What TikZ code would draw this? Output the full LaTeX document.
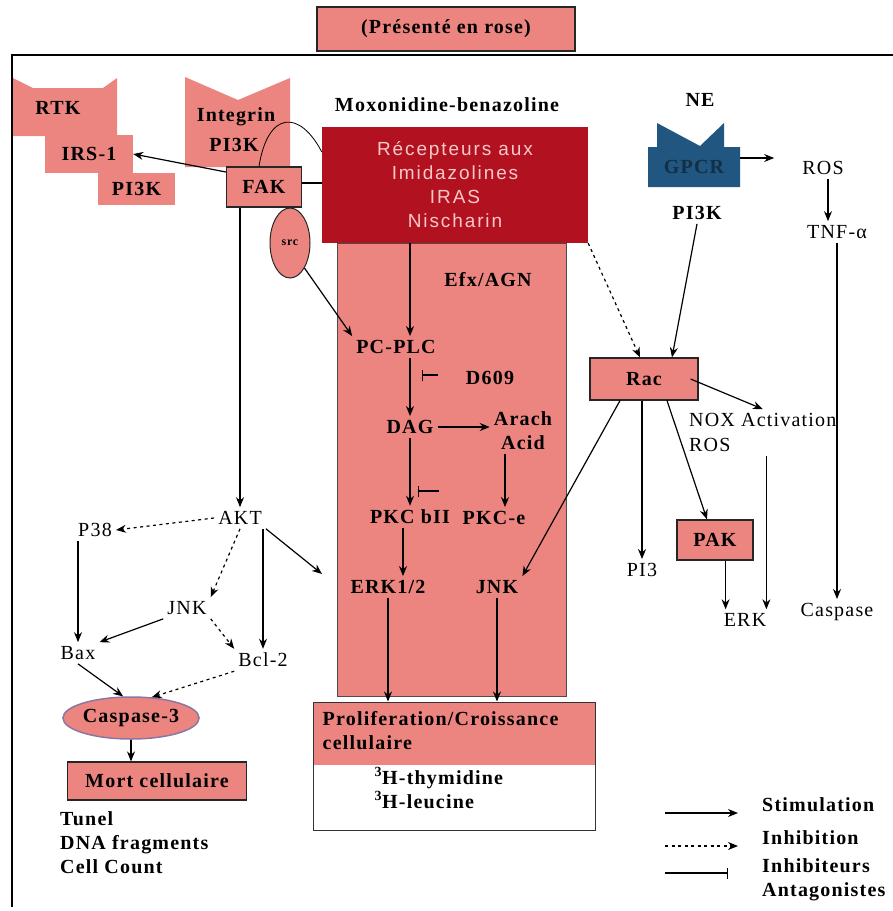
\documentclass[tikz,border=0pt]{standalone}
\usepackage{fontspec}
\setmainfont[LetterSpace=6]{Liberation Serif}
\newfontfamily\recfont[LetterSpace=10]{Liberation Sans}
\usetikzlibrary{arrows.meta,shapes.geometric}

\definecolor{rose}{RGB}{236,133,127}
\definecolor{recred}{RGB}{178,18,32}
\definecolor{recpink}{RGB}{248,200,200}
\definecolor{gpcrblue}{RGB}{32,86,128}
\definecolor{casline}{RGB}{140,118,160}

\tikzset{
  lbl/.style={font=\fontsize{20}{24}\selectfont\bfseries, inner sep=4pt},
  reg/.style={font=\fontsize{20}{24}\selectfont, inner sep=4pt},
  rosebox/.style={lbl, draw=black!85, fill=rose, line width=1.2pt},
  stim/.style={-{Stealth[length=10pt,width=8pt]}, line width=1.2pt},
  inhib/.style={stim, dash pattern=on 3pt off 3.5pt},
  block/.style={-{Bar[width=11pt]}, line width=1.2pt}
}

\begin{document}
\begin{tikzpicture}[x=1pt, y=-1pt]
    \useasboundingbox (0,0) rectangle (893,911);

    % Title and frame
    \node[rosebox, minimum width=258pt, minimum height=44pt] (title) at (446,29) {(Présenté en rose)};
    \draw[line width=1.3pt] (12,907) -- (12,55) -- (893,55);

    % Receptors on the left
    \fill[rose] (13,78) -- (33,88) -- (103,88) -- (117,78) -- (117,136) -- (13,136) -- cycle;
    \node[lbl] (rtk) at (58,108) {RTK};
    \node[lbl, fill=rose, minimum width=88pt, minimum height=38pt] (irs) at (89,154) {IRS-1};
    \node[lbl, fill=rose, minimum width=77pt, minimum height=32pt] (pikl) at (136.5,189) {PI3K};
    \fill[rose] (185,77) -- (238,100) -- (290,78) -- (290,167) -- (185,167) -- cycle;
    \node[lbl] (integ) at (236,117) {Integrin};
    \node[lbl] (piki) at (234,145) {PI3K};
    \node[rosebox, minimum width=75pt, minimum height=40pt] (fak) at (264,187) {FAK};
    \node[ellipse, draw=black!85, fill=rose, line width=1pt, minimum width=40pt, minimum height=70pt,
          inner sep=0pt, font=\fontsize{12}{14}\selectfont\bfseries] (src) at (290,243) {src};

    % Central column
    \node[draw=black!70, fill=rose, line width=1pt, minimum width=229pt, minimum height=453pt] (col) at (451.5,469.5) {};
    \node[fill=recred, text=recpink, minimum width=266pt, minimum height=116pt, align=center,
          font=\recfont\fontsize{19}{24}\selectfont] (rec) at (455,185) {Récepteurs aux\\Imidazolines\\IRAS\\Nischarin};
    \node[lbl] (moxo) at (447,105) {Moxonidine-benazoline};
    \node[lbl] (efx) at (488,280) {Efx/AGN};
    \node[lbl] (pcplc) at (396,347) {PC-PLC};
    \node[lbl] (d609) at (490,378) {D609};
    \node[lbl] (dag) at (410,427) {DAG};
    \node[lbl, align=center] (arach) at (523,431) {Arach\\Acid};
    \node[lbl] (pkcb) at (410,517) {PKC bII};
    \node[lbl] (pkce) at (494,518) {PKC-e};
    \node[lbl] (erk12) at (388,587) {ERK1/2};
    \node[lbl] (jnkc) at (497,587) {JNK};

    % Proliferation box
    \node[draw=black!80, fill=white, line width=1pt, minimum width=282pt, minimum height=128pt,
          path picture={\fill[rose] (path picture bounding box.north west) rectangle ([yshift=-63pt]path picture bounding box.north east);}] (prolif) at (454,766) {};
    \node[lbl, align=left, anchor=north west, inner sep=0pt] (prtxt) at ([xshift=10pt,yshift=-10pt]prolif.north west) {Proliferation/Croissance\\cellulaire};
    \node[lbl, align=left, anchor=north west, inner sep=0pt] (thym) at ([xshift=62pt,yshift=-66pt]prolif.north west) {\textsuperscript{3}H-thymidine\\\textsuperscript{3}H-leucine};

    % Left branch
    \node[reg] (akt) at (240,518) {AKT};
    \node[reg] (p38) at (95,530) {P38};
    \node[reg] (jnkl) at (187,608) {JNK};
    \node[reg] (bax) at (78,653) {Bax};
    \node[reg] (bcl2) at (263,660) {Bcl-2};
    \node[lbl, ellipse, draw=casline, fill=rose, line width=1.5pt, minimum width=132pt, minimum height=42pt,
          inner sep=0pt] (casp) at (131,718) {Caspase-3};
    \node[rosebox, minimum width=179pt, minimum height=38pt] (mort) at (157,781) {Mort cellulaire};
    \node[lbl, align=left, anchor=north west, inner sep=0pt] (assays) at (60,811) {Tunel\\DNA fragments\\Cell Count};

    % Right branch
    \fill[gpcrblue] (648,187) -- (648,147) -- (657,147) -- (657,123) -- (700,146) -- (724,123)
        -- (724,147) -- (740,147) -- (740,187) -- cycle;
    \node[lbl, text=gpcrblue!55!black, minimum width=92pt, minimum height=40pt] (gpcr) at (694,167) {GPCR};
    \node[lbl] (ne) at (700,100) {NE};
    \node[reg] (rosr) at (823,168) {ROS};
    \node[reg] (tnf) at (837,232) {TNF-α};
    \node[lbl] (pikr) at (697,213) {PI3K};
    \node[reg] (caspr) at (837,612) {Caspase};
    \node[rosebox, minimum width=108pt, minimum height=42pt] (rac) at (644,379) {Rac};
    \node[reg, anchor=west] (nox1) at (685,420) {NOX Activation};
    \node[reg, anchor=west] (nox2) at (685,445) {ROS};
    \node[rosebox, minimum width=76pt, minimum height=40pt] (pak) at (715,540) {PAK};
    \node[reg] (pi3) at (642,570) {PI3};
    \node[reg] (erkr) at (745,620) {ERK};

    % Connectors, upper left
    \draw[stim] ([yshift=15pt]fak.west) -- (irs.east);
    \draw[line width=0.8pt] ([xshift=-5pt]fak.north) .. controls (268,110) and (300,110) .. ([yshift=33pt]rec.west);
    \draw[line width=1.2pt] ([yshift=4pt]fak.east) -- ([yshift=4pt]fak.east -| rec.west);
    \draw[stim] (src.south east) -- (pcplc.north west);
    \draw[stim] (fak.south -| akt) -- (akt.north);

    % Connectors in the column
    \draw[stim] (rec.south -| dag) -- (pcplc.north -| dag);
    \draw[stim] (pcplc.south -| dag) -- (dag.north);
    \coordinate (d609bar) at (422,375);
    \draw[block] ([xshift=16pt]d609bar) -- (d609bar);
    \draw[stim] (dag.east) -- (arach.west |- dag.east);
    \draw[stim] (dag.south) -- (pkcb.north);
    \coordinate (pkcbar) at (418,491);
    \draw[block] ([xshift=21pt]pkcbar) -- (pkcbar);
    \draw[stim] ([xshift=-18pt]arach.south) -- ([xshift=-18pt]arach.south |- pkce.north);
    \draw[stim] ([xshift=-7pt]pkcb.south) -- ([xshift=-7pt]pkcb.south |- erk12.north);
    \draw[stim] (erk12.south) -- (erk12.south |- prolif.north);
    \draw[stim] (jnkc.south) -- (jnkc.south |- prolif.north);

    % Connectors, left branch
    \coordinate (colin) at (322,574);
    \draw[stim] (akt.south east) -- (colin);
    \draw[inhib] (akt.west) -- (p38.east);
    \draw[stim] (bax.north |- p38.south) -- (bax.north);
    \draw[inhib] (akt.south) -- (jnkl.north east);
    \draw[stim] (jnkl.south west) -- (bax.north east);
    \draw[inhib] (jnkl.south east) -- (bcl2.north west);
    \draw[stim] (bcl2.north |- akt.south) -- (bcl2.north);
    \draw[stim] (bax.south) -- (casp.110);
    \draw[inhib] (bcl2.south west) -- (casp.45);
    \draw[stim] (casp.south) -- (casp.south |- mort.north);

    % Connectors, right branch
    \draw[stim, shorten >=24pt] ([yshift=9pt]gpcr.east) -- ([yshift=9pt]gpcr.east -| rosr.west);
    \draw[stim] ([xshift=5pt]rosr.south) -- ([xshift=5pt]rosr.south |- tnf.north);
    \draw[stim] (tnf.south) -- (caspr.north);
    \draw[inhib] (rec.south east) -- ([xshift=-4pt]rac.north);
    \draw[stim] (pikr.south) -- ([xshift=28pt]rac.north);
    \draw[stim] ([xshift=-8pt]rac.east) -- (nox1.north);
    \draw[stim] (rac.south -| pi3) -- (pi3.north);
    \draw[stim] ([xshift=23pt]rac.south) -- ([xshift=-8pt]pak.north);
    \draw[stim] ([xshift=-24pt]rac.south) -- (jnkc.north east);
    \draw[stim] ([xshift=6pt]erkr.north west |- pak.south) -- ([xshift=6pt]erkr.north west);
    \draw[stim] ([xshift=-4pt]erkr.north east |- nox2.south) -- ([xshift=-4pt]erkr.north east);

    % Legend
    \node[lbl, anchor=west] (lstim) at (758,805) {Stimulation};
    \node[lbl, anchor=west] (linh) at (758,838) {Inhibition};
    \node[lbl, anchor=west, align=left] (lblk) at (758,880) {Inhibiteurs\\Antagonistes};
    \draw[stim] ([xshift=-93pt,yshift=-8pt]lstim.west) -- ([xshift=-20pt,yshift=-8pt]lstim.west);
    \draw[inhib] ([xshift=-93pt,yshift=-8pt]linh.west) -- ([xshift=-20pt,yshift=-8pt]linh.west);
    \draw[block] ([xshift=-93pt,yshift=7pt]lblk.west) -- ([xshift=-30pt,yshift=7pt]lblk.west);
\end{tikzpicture}
\end{document}
